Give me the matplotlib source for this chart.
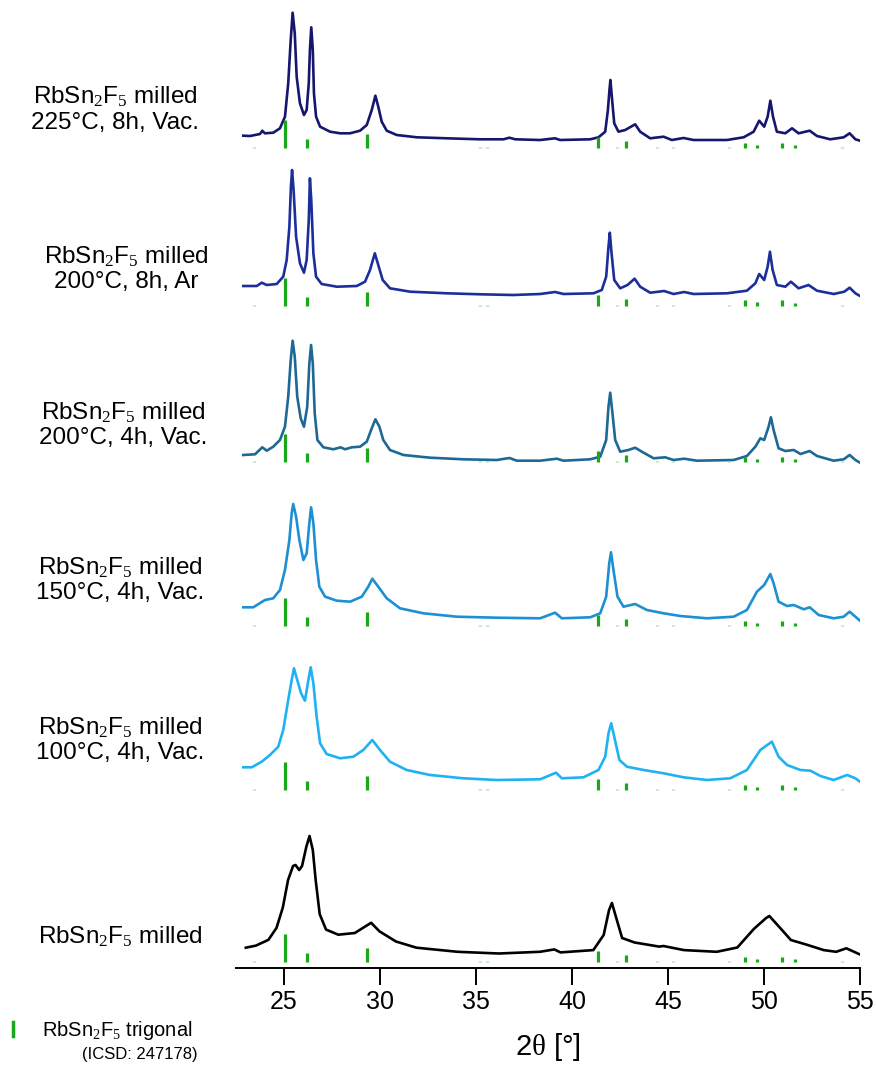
import numpy as np
import matplotlib
matplotlib.use("Agg")
import matplotlib.pyplot as plt
from matplotlib.lines import Line2D

plt.rcParams['font.family'] = ['Liberation Sans', 'DejaVu Sans']
plt.rcParams['mathtext.fontset'] = 'custom'
plt.rcParams['mathtext.rm'] = 'Liberation Serif'
plt.rcParams['mathtext.it'] = 'Liberation Serif:italic'

# ---------------- data (2theta in degrees, intensity in arbitrary units) -------------
tth_225_8h_vac = [22.88, 23.23, 23.75, 23.87, 24.0, 24.44, 24.79, 25.05, 25.22, 25.35, 25.45, 25.56, 25.66,
                  25.83, 26.04, 26.18, 26.29, 26.35, 26.42, 26.5, 26.56, 26.67, 26.88, 27.4, 27.92, 28.44,
                  28.96, 29.31, 29.57, 29.76, 29.91, 30.09, 30.35, 30.87, 31.92, 33.48, 35.21, 36.43, 36.74,
                  37.04, 38.34, 39.12, 39.38, 40.95, 41.38, 41.73, 41.87, 41.95, 42.0, 42.09, 42.2, 42.42,
                  42.77, 43.29, 43.55, 44.07, 44.77, 45.2, 45.81, 46.33, 48.07, 48.94, 49.46, 49.75, 50.01,
                  50.19, 50.33, 50.47, 50.67, 51.11, 51.46, 51.8, 52.38, 52.76, 53.45, 54.15, 54.46, 54.76, 55.0]
int_225_8h_vac = [12.3, 12, 14, 17.3, 14.7, 15.3, 19.7, 31.3, 64.7, 108, 135.3, 114.7, 71.3,
                  44.7, 33, 38, 64.7, 98, 120.7, 98, 54.7, 31.3, 21.3, 16.3, 14.7, 14.7,
                  17.3, 23, 38, 52.3, 41.3, 26.3, 17.3, 13, 10.7, 9.7, 8.7, 8.7, 10.3,
                  8.7, 8, 9.7, 8, 8.7, 10.7, 16.3, 38, 58, 68, 48, 24.7, 16.3,
                  18, 23.7, 16.3, 9.7, 11.3, 8, 10, 8, 8, 10.7, 16.3, 27.3, 21.3,
                  31.3, 47.3, 31.3, 16.3, 14.7, 19.7, 14.7, 17.3, 12, 8.7, 10.7, 14.7, 8.7, 7.3]

tth_200_8h_ar = [22.88, 23.58, 23.84, 24.1, 24.62, 24.96, 25.14, 25.28, 25.36, 25.42, 25.5, 25.63, 25.83,
                 26.04, 26.18, 26.29, 26.35, 26.42, 26.53, 26.67, 26.96, 27.75, 28.79, 29.22, 29.48, 29.73,
                 29.91, 30.14, 30.52, 31.57, 33.48, 35.21, 36.95, 38.34, 39.12, 39.56, 41.12, 41.55, 41.78,
                 41.9, 41.97, 42.06, 42.2, 42.51, 42.89, 43.26, 43.55, 44.07, 44.8, 45.29, 45.84, 46.33,
                 48.07, 49.11, 49.55, 49.75, 50.01, 50.19, 50.31, 50.45, 50.67, 51.11, 51.4, 51.8, 52.32,
                 52.76, 53.63, 54.18, 54.46, 54.76, 55.0]
int_200_8h_ar = [19.7, 19.7, 23, 20.7, 21.7, 29, 45.7, 79, 119, 135.7, 115.7, 69, 42.4,
                 33, 45.7, 85.7, 127.4, 105.7, 52.4, 29, 21.7, 19, 19.7, 24, 35.7, 52.4,
                 40.7, 25.7, 17.4, 14, 12.4, 11.4, 10.7, 11.7, 13.7, 11.7, 12.4, 15.7, 29,
                 59, 73, 52.4, 25.7, 17.4, 20.7, 27, 19, 13, 14.7, 11.7, 13.7, 11.7,
                 12.4, 15, 22.4, 31.7, 25.7, 39, 54, 35.7, 20.7, 19, 24, 17.4, 20.7,
                 15, 11.7, 14, 18, 12.4, 9.7]

tth_200_4h_vac = [22.88, 23.49, 23.87, 24.1, 24.44, 24.79, 25.05, 25.22, 25.35, 25.45, 25.56, 25.69, 25.87,
                  26.04, 26.21, 26.32, 26.41, 26.5, 26.6, 26.74, 27.05, 27.57, 27.95, 28.18, 28.53, 28.96,
                  29.31, 29.57, 29.76, 29.97, 30.17, 30.52, 31.22, 32.61, 34.34, 36.08, 36.74, 37.13, 38.34,
                  39.21, 39.56, 40.95, 41.47, 41.78, 41.9, 41.99, 42.09, 42.25, 42.51, 42.94, 43.29, 43.64,
                  44.25, 44.85, 45.29, 45.84, 46.51, 48.42, 49.11, 49.55, 49.81, 50.01, 50.24, 50.36, 50.5,
                  50.76, 51.11, 51.55, 51.9, 52.38, 52.76, 53.63, 54.15, 54.46, 54.76, 55.0]
int_200_4h_vac = [7, 7.7, 14.7, 11.3, 15.3, 22, 35.3, 65.3, 102, 121.3, 105.3, 65.3, 43.7,
                  35.3, 55.3, 98.7, 117, 98.7, 48.7, 22, 14.7, 12.7, 14.7, 12.7, 14.7, 15.3,
                  20.3, 33.7, 42.7, 35.3, 22, 12, 7, 4.3, 2.7, 2, 4, 1.3, 1.3,
                  3.3, 1.3, 2.7, 5.3, 22, 55.3, 69.3, 52, 22, 10.3, 12, 14.3, 10.3,
                  3.7, 4.7, 2, 3.3, 1.3, 2, 6, 15.3, 23.7, 22, 35.3, 44.7, 32,
                  13.7, 11, 12, 8, 11, 6, 1.3, 2.7, 7, 2, -0.7]

tth_150_4h_vac = [22.88, 23.4, 24.01, 24.44, 24.79, 25.05, 25.28, 25.4, 25.48, 25.63, 25.8, 26.01, 26.18,
                  26.32, 26.41, 26.53, 26.67, 26.84, 27.14, 27.75, 28.44, 29.05, 29.39, 29.6, 29.91, 30.35,
                  31.04, 32.26, 34.0, 36.08, 38.34, 39.12, 39.47, 40.95, 41.47, 41.78, 41.94, 42.03, 42.16,
                  42.37, 42.68, 43.29, 43.9, 44.77, 45.64, 47.03, 48.42, 49.11, 49.63, 50.01, 50.33, 50.5,
                  50.76, 51.2, 51.55, 52.07, 52.38, 52.85, 53.63, 54.15, 54.46, 54.76, 55.0]
int_150_4h_vac = [18.7, 18.7, 26, 27.7, 36, 56, 86, 112.7, 122, 109.3, 86, 66, 72.7,
                  102.7, 118.7, 102.7, 66, 39.3, 29.3, 25.3, 24.3, 29.3, 39.3, 47.3, 39.3, 27.7,
                  17.7, 12.7, 9.3, 8.3, 7.7, 13.3, 7.7, 8.7, 12.7, 29.3, 62.7, 73.7, 56,
                  29.3, 19.3, 22, 16, 12.7, 10, 7.7, 9.3, 16, 34.3, 41, 52, 42.7,
                  24.3, 20, 21, 16.7, 18.7, 11, 7.7, 9.3, 14.3, 9.3, 5.3]

tth_100_4h_vac = [22.88, 23.32, 23.84, 24.27, 24.7, 24.96, 25.22, 25.4, 25.52, 25.69, 25.89, 26.09, 26.27,
                  26.39, 26.53, 26.7, 26.88, 27.22, 27.92, 28.61, 29.13, 29.6, 30.0, 30.52, 31.39, 32.61,
                  34.34, 36.08, 38.34, 39.17, 39.47, 40.6, 41.38, 41.73, 41.9, 42.04, 42.2, 42.47, 42.86,
                  43.73, 44.77, 45.81, 47.03, 48.24, 49.11, 49.81, 50.41, 50.76, 51.2, 51.9, 52.42, 52.94,
                  53.63, 54.33, 54.76, 55.0]
int_100_4h_vac = [22.7, 22.7, 28.3, 35, 43.3, 60, 90, 110, 121.7, 110, 96.7, 89.3, 110,
                  122.7, 106.7, 73.3, 46.7, 36, 31.7, 33.3, 40, 50, 40, 28.3, 20, 15,
                  11.7, 10, 10.7, 17.3, 11.7, 12.7, 20, 33.3, 56.7, 66.7, 53.3, 30, 23.3,
                  20, 16.7, 12.7, 10, 11.7, 20, 40, 48.3, 33.3, 25, 20, 19.3, 14,
                  10, 15, 11.7, 8.3]

tth_milled = [23.01, 23.54, 24.19, 24.61, 24.94, 25.21, 25.47, 25.6, 25.79, 25.94, 26.16, 26.33, 26.5,
              26.65, 26.86, 27.19, 27.83, 28.69, 29.11, 29.54, 29.97, 30.83, 31.9, 34.04, 36.19, 38.33,
              39.08, 39.4, 41.11, 41.65, 41.93, 42.08, 42.29, 42.61, 43.26, 44.54, 44.76, 45.83, 47.54,
              48.61, 49.47, 50.11, 50.28, 50.75, 51.4, 52.26, 53.11, 53.76, 54.29, 55.0]
int_milled = [14.3, 16.4, 22.2, 34.1, 54.6, 81.9, 96, 97, 92, 96, 115, 126, 112,
              81.9, 47.8, 32.4, 27.3, 29, 34.1, 39.2, 30.7, 20.5, 14.3, 10.2, 8.5, 10.2,
              12.6, 9.6, 11.9, 27, 52, 59, 45, 24, 19.5, 15.4, 16, 11.9, 10.2,
              14.5, 33, 44, 46, 36, 22, 17.1, 11.9, 10.2, 13.7, 7.5]

# reference reflections RbSn2F5 trigonal (ICSD 247178)
ref_tth = [23.45, 25.07, 26.18, 29.34, 35.2, 35.55, 41.33, 42.34, 42.82, 44.45, 45.24, 48.19,
           49.03, 49.66, 50.95, 51.61, 54.06]
ref_int = [1, 28, 9, 14, 1, 1, 11, 1, 7, 1, 1, 1, 5.5, 3.5, 5.5, 3, 1]

labels = [["RbSn$_2$F$_5$ milled", "225°C, 8h, Vac."],
          ["RbSn$_2$F$_5$ milled", "200°C, 8h, Ar"],
          ["RbSn$_2$F$_5$ milled", "200°C, 4h, Vac."],
          ["RbSn$_2$F$_5$ milled", "150°C, 4h, Vac."],
          ["RbSn$_2$F$_5$ milled", "100°C, 4h, Vac."],
          ["RbSn$_2$F$_5$ milled"]]
x_ticks = [25, 30, 35, 40, 45, 50, 55]

# ---------------- layout / style -------------
series = [(tth_225_8h_vac, int_225_8h_vac), (tth_200_8h_ar, int_200_8h_ar),
          (tth_200_4h_vac, int_200_4h_vac), (tth_150_4h_vac, int_150_4h_vac),
          (tth_100_4h_vac, int_100_4h_vac), (tth_milled, int_milled)]
offsets = [820, 662.3, 506, 342, 178, 6]
colors = ['#16166e', '#1c2e9a', '#1e6896', '#1d8fd2', '#1fb2f2', '#000000']
label_y = [(97, 123), (257, 282), (413, 438), (568, 593), (728, 753), (937,)]
label_x = [115, 126, 123, 120, 120, 120]

W, H = 876, 1071
fig = plt.figure(figsize=(W / 100, H / 100), dpi=100)
ax = fig.add_axes([236 / W, (H - 968) / H, 624 / W, 968 / H])
ax.set_xlim(22.5, 55.0)
ax.set_ylim(0, 968)

for (t, y), off, c in zip(series, offsets, colors):
    ax.plot(t, off + np.asarray(y), color=c, lw=1.9, solid_joinstyle='round')
    for rt, ri in zip(ref_tth, ref_int):
        col = '#18a818' if ri > 1.5 else '#9ad89a'
        ax.vlines(rt, off, off + ri, color=col, lw=2.3)

for lab, ys, lx in zip(labels, label_y, label_x):
    for txt, yy in zip(lab, ys):
        fig.text(lx / W, 1 - yy / H, txt, ha='center', va='center', fontsize=17.5)

for s in ['left', 'right', 'top']:
    ax.spines[s].set_visible(False)
ax.spines['bottom'].set_linewidth(1.4)
ax.set_yticks([])
ax.set_xticks(x_ticks)
ax.tick_params(axis='x', length=12, width=1.4, labelsize=18, pad=4, direction='out')

fig.text(548 / W, 1 - 1047 / H, r'2$\mathrm{\theta}$ [°]', ha='center', va='center', fontsize=21)

# legend
fig.add_artist(Line2D([13 / W, 13 / W], [1 - 1036 / H, 1 - 1022 / H], color='#18a818', lw=2.5))
fig.text(42 / W, 1 - 1030 / H, "RbSn$_2$F$_5$ trigonal", ha='left', va='center', fontsize=14.5)
fig.text(82 / W, 1 - 1055 / H, "(ICSD: 247178)", ha='left', va='center', fontsize=12)

fig.savefig('out.png', dpi=100)
